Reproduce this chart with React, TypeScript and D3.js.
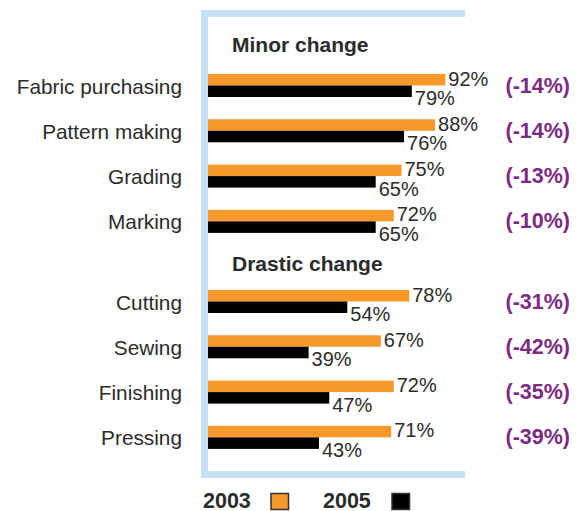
import React from "react";
import * as d3 from "d3";

const minorCategories = ["Fabric purchasing", "Pattern making", "Grading", "Marking"];
const minor2003 = [92, 88, 75, 72];
const minor2005 = [79, 76, 65, 65];
const minorChange = ["(-14%)", "(-14%)", "(-13%)", "(-10%)"];

const drasticCategories = ["Cutting", "Sewing", "Finishing", "Pressing"];
const drastic2003 = [78, 67, 72, 71];
const drastic2005 = [54, 39, 47, 43];
const drasticChange = ["(-31%)", "(-42%)", "(-35%)", "(-39%)"];

const groupTitles = ["Minor change", "Drastic change"];
const legendLabels = ["2003", "2005"];

const ORANGE = "#f7982a";
const BLACK = "#000000";
const FRAME = "#c6e1f4";
const PURPLE = "#7d2a82";
const TEXT = "#2b2b2b";
const FONT = "'Liberation Sans', Arial, sans-serif";

export default function App() {
  const W = 584, H = 511;
  const x = d3.scaleLinear().domain([0, 100]).range([208, 466]);
  const barH = 11.5;
  const groups = [
    { title: groupTitles[0], cats: minorCategories, a: minor2003, b: minor2005, ch: minorChange, top: 74, titleY: 52 },
    { title: groupTitles[1], cats: drasticCategories, a: drastic2003, b: drastic2005, ch: drasticChange, top: 290, titleY: 271 },
  ];

  return (
    <svg width={W} height={H} style={{ position: "absolute", left: 0, top: 0 }} fontFamily={FONT}>
      <rect x={0} y={0} width={W} height={H} fill="#fff" />
      {/* frame */}
      <rect x={201} y={10} width={7} height={468} fill={FRAME} />
      <rect x={201} y={10} width={264} height={7} fill={FRAME} />
      <rect x={201} y={471} width={264} height={7} fill={FRAME} />
      {groups.map((g, gi) => {
        const y = d3.scaleLinear().domain([0, 1]).range([g.top, g.top + 45.3]);
        return (
          <g key={gi}>
            <text x={232} y={g.titleY} fontSize={21} fontWeight={700} fill={TEXT}>{g.title}</text>
            {g.cats.map((c, i) => {
              const t = y(i);
              return (
                <g key={c}>
                  <text x={182} y={t + 19.5} textAnchor="end" fontSize={20.8} fill={TEXT}>{c}</text>
                  <rect x={x(0)} y={t} width={x(g.a[i]) - x(0)} height={barH} fill={ORANGE} />
                  <rect x={x(0)} y={t + barH} width={x(g.b[i]) - x(0)} height={barH} fill={BLACK} />
                  <text x={x(g.a[i]) + 3} y={t + 11.5} fontSize={20} fill={TEXT}>{g.a[i]}%</text>
                  <text x={x(g.b[i]) + 3} y={t + 31} fontSize={20} fill={TEXT}>{g.b[i]}%</text>
                  <text x={570} y={t + 18.5} textAnchor="end" fontSize={21.5} fontWeight={700} fill={PURPLE}>{g.ch[i]}</text>
                </g>
              );
            })}
          </g>
        );
      })}
      {/* legend */}
      <text x={203} y={507.5} fontSize={21.5} fontWeight={700} fill={TEXT}>{legendLabels[0]}</text>
      <rect x={271} y={493.5} width={17.5} height={16} fill={ORANGE} stroke="#333" strokeWidth={1.5} />
      <text x={323} y={507.5} fontSize={21.5} fontWeight={700} fill={TEXT}>{legendLabels[1]}</text>
      <rect x={392} y={493.5} width={17.5} height={16} fill={BLACK} stroke="#333" strokeWidth={1.5} />
    </svg>
  );
}
